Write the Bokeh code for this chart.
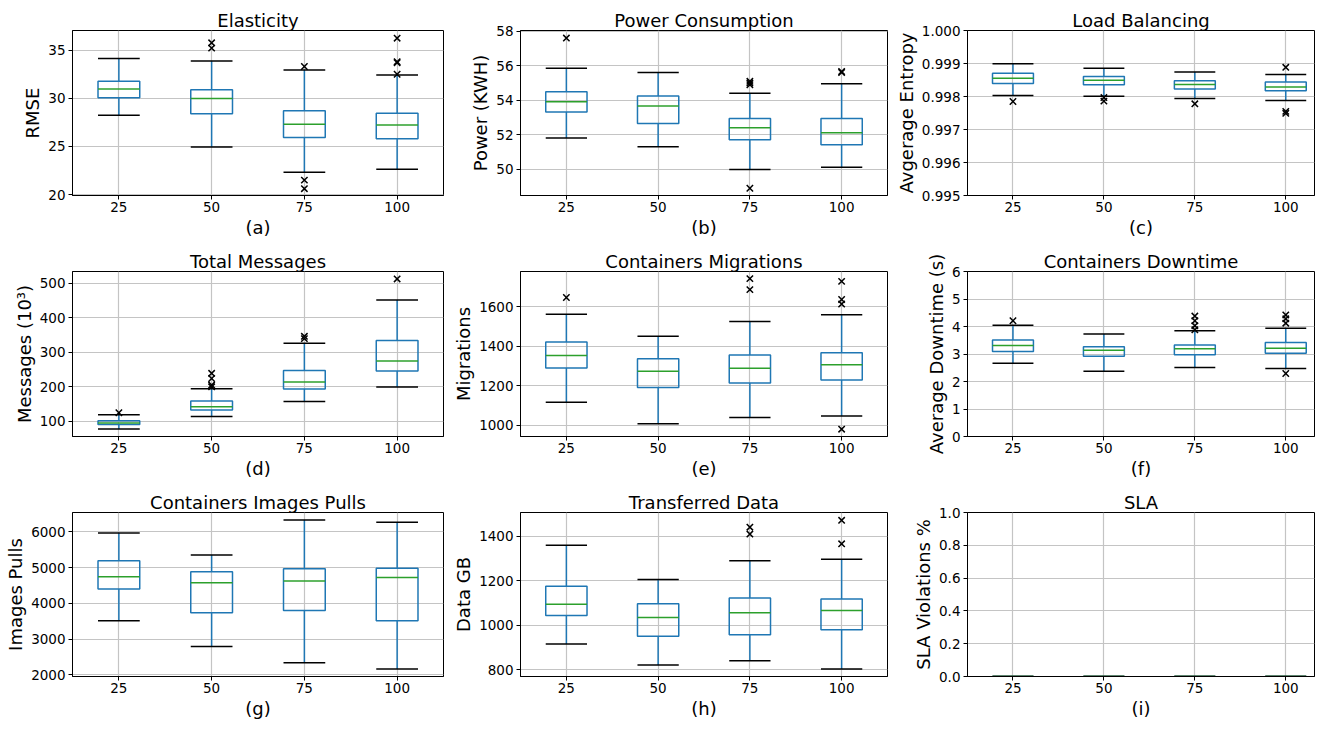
from bokeh.plotting import figure
from bokeh.layouts import gridplot
from bokeh.models import ColumnDataSource, FixedTicker, PrintfTickFormatter, Range1d
from bokeh.embed import file_html
from bokeh.resources import INLINE

FONT = "DejaVu Sans"
BLUE = "#1f77b4"
GREEN = "#2ca02c"

categories = ["25", "50", "75", "100"]

# (a) Elasticity
elasticity_low = [28.23, 24.95, 22.32, 22.63]
elasticity_q1 = [30.07, 28.40, 25.94, 25.80]
elasticity_med = [30.96, 29.97, 27.30, 27.24]
elasticity_q3 = [31.77, 30.89, 28.70, 28.46]
elasticity_high = [34.13, 33.89, 32.94, 32.42]
elasticity_out = [[], [35.77, 35.22], [33.31, 21.50, 20.61], [36.25, 33.80, 33.70, 32.50]]

# (b) Power Consumption
power_low = [51.81, 51.30, 49.98, 50.11]
power_q1 = [53.32, 52.65, 51.70, 51.41]
power_med = [53.91, 53.66, 52.40, 52.12]
power_q3 = [54.50, 54.24, 52.94, 52.94]
power_high = [55.86, 55.61, 54.41, 54.96]
power_out = [[57.61], [], [55.10, 55.00, 54.90, 48.89], [55.67, 55.61]]

# (c) Load Balancing
entropy_low = [0.998028, 0.998008, 0.997938, 0.997878]
entropy_q1 = [0.998396, 0.998357, 0.998227, 0.998177]
entropy_med = [0.998556, 0.998496, 0.998367, 0.998287]
entropy_q3 = [0.998705, 0.998606, 0.998476, 0.998436]
entropy_high = [0.998994, 0.998855, 0.998745, 0.998665]
entropy_out = [[0.997849], [0.997968, 0.997859], [0.997779], [0.998884, 0.99755, 0.99749]]

# (d) Total Messages
messages_low = [78.0, 114.3, 157.3, 199.3]
messages_q1 = [90.5, 132.5, 193.6, 246.1]
messages_med = [95.2, 142.0, 213.6, 274.7]
messages_q3 = [101.9, 159.2, 247.0, 333.9]
messages_high = [119.1, 194.5, 326.2, 451.3]
messages_out = [[124.8], [239.0, 224.0, 205.0, 200.0], [346.3, 339.6], [512.4]]

# (e) Containers Migrations
migrations_low = [1117, 1008, 1040, 1047]
migrations_q1 = [1291, 1192, 1214, 1229]
migrations_med = [1354, 1274, 1289, 1307]
migrations_q3 = [1423, 1338, 1356, 1368]
migrations_high = [1563, 1451, 1526, 1561]
migrations_out = [[1648], [], [1744, 1688], [1730, 1638, 1615, 980]]

# (f) Containers Downtime
downtime_low = [2.66, 2.37, 2.51, 2.47]
downtime_q1 = [3.09, 2.92, 2.97, 3.03]
downtime_med = [3.31, 3.14, 3.19, 3.21]
downtime_q3 = [3.51, 3.26, 3.33, 3.42]
downtime_high = [4.05, 3.73, 3.85, 3.94]
downtime_out = [[4.21], [], [4.38, 4.21, 4.03, 3.88], [4.42, 4.28, 4.12, 2.29]]

# (g) Containers Images Pulls
pulls_low = [3516, 2794, 2338, 2164]
pulls_q1 = [4402, 3735, 3799, 3516]
pulls_med = [4740, 4575, 4621, 4721]
pulls_q3 = [5187, 4886, 4968, 4977]
pulls_high = [5963, 5351, 6329, 6265]
pulls_out = [[], [], [], []]

# (h) Transferred Data
data_low = [915, 821, 840, 803]
data_q1 = [1044, 950, 957, 979]
data_med = [1094, 1034, 1056, 1066]
data_q3 = [1175, 1096, 1122, 1118]
data_high = [1360, 1206, 1290, 1297]
data_out = [[], [], [1441, 1410], [1472, 1366]]

# (i) SLA
sla_low = [0.0, 0.0, 0.0, 0.0]
sla_q1 = [0.0, 0.0, 0.0, 0.0]
sla_med = [0.0, 0.0, 0.0, 0.0]
sla_q3 = [0.0, 0.0, 0.0, 0.0]
sla_high = [0.0, 0.0, 0.0, 0.0]
sla_out = [[], [], [], []]

# layout: (width, min_border_left, min_border_right, x_end)
COLS = [(450, 72, 7, 4.5), (442, 67, 5, 4.5), (424, 69, 2, 4.316)]
# (height, min_border_top, min_border_bottom)
ROWS = [(240, 30, 44), (241, 31, 44), (240, 31, 44)]
BOX_W = 0.45


def style_axis(ax, label_standoff, axis_standoff):
    ax.major_label_text_font = FONT
    ax.major_label_text_font_size = "13.5px"
    ax.major_label_text_color = "black"
    ax.axis_label_text_font = FONT
    ax.axis_label_text_font_size = "18px"
    ax.axis_label_text_font_style = "normal"
    ax.axis_label_text_color = "black"
    ax.axis_line_color = "black"
    ax.axis_line_width = 1
    ax.major_tick_line_color = "black"
    ax.major_tick_out = 4
    ax.major_tick_in = 0
    ax.minor_tick_line_color = None
    ax.major_label_standoff = label_standoff
    ax.axis_label_standoff = axis_standoff


def make_panel(title, ylabel, sub, low, q1, med, q3, high, outs, yr, yticks, fmt, col, row):
    width, bl, br, x_end = COLS[col]
    height, bt, bb = ROWS[row]
    p = figure(width=width, height=height, x_range=Range1d(0.5, x_end), y_range=Range1d(*yr),
               output_backend="svg", toolbar_location=None, tools="",
               min_border_left=bl, min_border_right=br, min_border_top=bt, min_border_bottom=bb,
               title=title)
    p.title.text_font = FONT
    p.title.text_font_size = "18px"
    p.title.text_font_style = "normal"
    p.title.text_color = "black"
    p.title.align = "center"
    p.title.standoff = 0
    p.outline_line_color = "black"
    p.outline_line_width = 1
    p.outline_line_alpha = 1
    p.background_fill_color = "white"
    p.border_fill_color = "white"

    pos = list(range(1, len(categories) + 1))
    xt = FixedTicker(ticks=pos)
    yt = FixedTicker(ticks=yticks)
    p.xaxis.ticker = xt
    p.xaxis.major_label_overrides = {i: c for i, c in zip(pos, categories)}
    p.yaxis.ticker = yt
    if fmt:
        p.yaxis.formatter = PrintfTickFormatter(format=fmt)
    p.xaxis.axis_label = sub
    p.yaxis.axis_label = ylabel
    style_axis(p.xaxis[0], 2, 2)
    style_axis(p.yaxis[0], 3, 2)
    p.xgrid.ticker = xt
    p.ygrid.ticker = yt
    for g in (p.xgrid[0], p.ygrid[0]):
        g.grid_line_color = "#c4c4c4"
        g.grid_line_width = 1.2

    src = ColumnDataSource(dict(
        x=pos, low=low, q1=q1, med=med, q3=q3, high=high,
        left=[x - BOX_W / 2 for x in pos], right=[x + BOX_W / 2 for x in pos]))
    p.segment(x0="x", y0="q3", x1="x", y1="high", source=src, line_color=BLUE, line_width=1.5)
    p.segment(x0="x", y0="low", x1="x", y1="q1", source=src, line_color=BLUE, line_width=1.5)
    p.quad(left="left", right="right", bottom="q1", top="q3", source=src,
           fill_color=None, line_color=BLUE, line_width=1.5)
    p.segment(x0="left", y0="high", x1="right", y1="high", source=src, line_color="black", line_width=1.5)
    p.segment(x0="left", y0="low", x1="right", y1="low", source=src, line_color="black", line_width=1.5)
    p.segment(x0="left", y0="med", x1="right", y1="med", source=src, line_color=GREEN, line_width=1.5)

    fx = [pos[i] for i, o in enumerate(outs) for _ in o]
    fy = [v for o in outs for v in o]
    if fx:
        p.scatter(fx, fy, marker="x", size=9, line_color="black", line_width=1.5)
    return p


pa = make_panel("Elasticity", "RMSE", "(a)", elasticity_low, elasticity_q1, elasticity_med,
                elasticity_q3, elasticity_high, elasticity_out, (19.9, 37.05), [20, 25, 30, 35], None, 0, 0)
pb = make_panel("Power Consumption", "Power (KWH)", "(b)", power_low, power_q1, power_med,
                power_q3, power_high, power_out, (48.47, 58.05), [50, 52, 54, 56, 58], None, 1, 0)
pc = make_panel("Load Balancing", "Avgerage Entropy", "(c)", entropy_low, entropy_q1, entropy_med,
                entropy_q3, entropy_high, entropy_out, (0.995, 1.0),
                [0.995, 0.996, 0.997, 0.998, 0.999, 1.0], "%.3f", 2, 0)
pd_ = make_panel("Total Messages", "Messages (10³)", "(d)", messages_low, messages_q1, messages_med,
                 messages_q3, messages_high, messages_out, (56, 534), [100, 200, 300, 400, 500], None, 0, 1)
pe = make_panel("Containers Migrations", "Migrations", "(e)", migrations_low, migrations_q1, migrations_med,
                migrations_q3, migrations_high, migrations_out, (943, 1780), [1000, 1200, 1400, 1600], None, 1, 1)
pf = make_panel("Containers Downtime", "Average Downtime (s)", "(f)", downtime_low, downtime_q1, downtime_med,
                downtime_q3, downtime_high, downtime_out, (0, 6), [0, 1, 2, 3, 4, 5, 6], None, 2, 1)
pg = make_panel("Containers Images Pulls", "Images Pulls", "(g)", pulls_low, pulls_q1, pulls_med,
                pulls_q3, pulls_high, pulls_out, (1954, 6539), [2000, 3000, 4000, 5000, 6000], None, 0, 2)
ph = make_panel("Transferred Data", "Data GB", "(h)", data_low, data_q1, data_med,
                data_q3, data_high, data_out, (769, 1507), [800, 1000, 1200, 1400], None, 1, 2)
pi = make_panel("SLA", "SLA Violations %", "(i)", sla_low, sla_q1, sla_med,
                sla_q3, sla_high, sla_out, (0, 1), [0, 0.2, 0.4, 0.6, 0.8, 1.0], "%.1f", 2, 2)

grid = gridplot([[pa, pb, pc], [pd_, pe, pf], [pg, ph, pi]], toolbar_location=None)

open("out.html", "w").write(file_html(grid, INLINE))
